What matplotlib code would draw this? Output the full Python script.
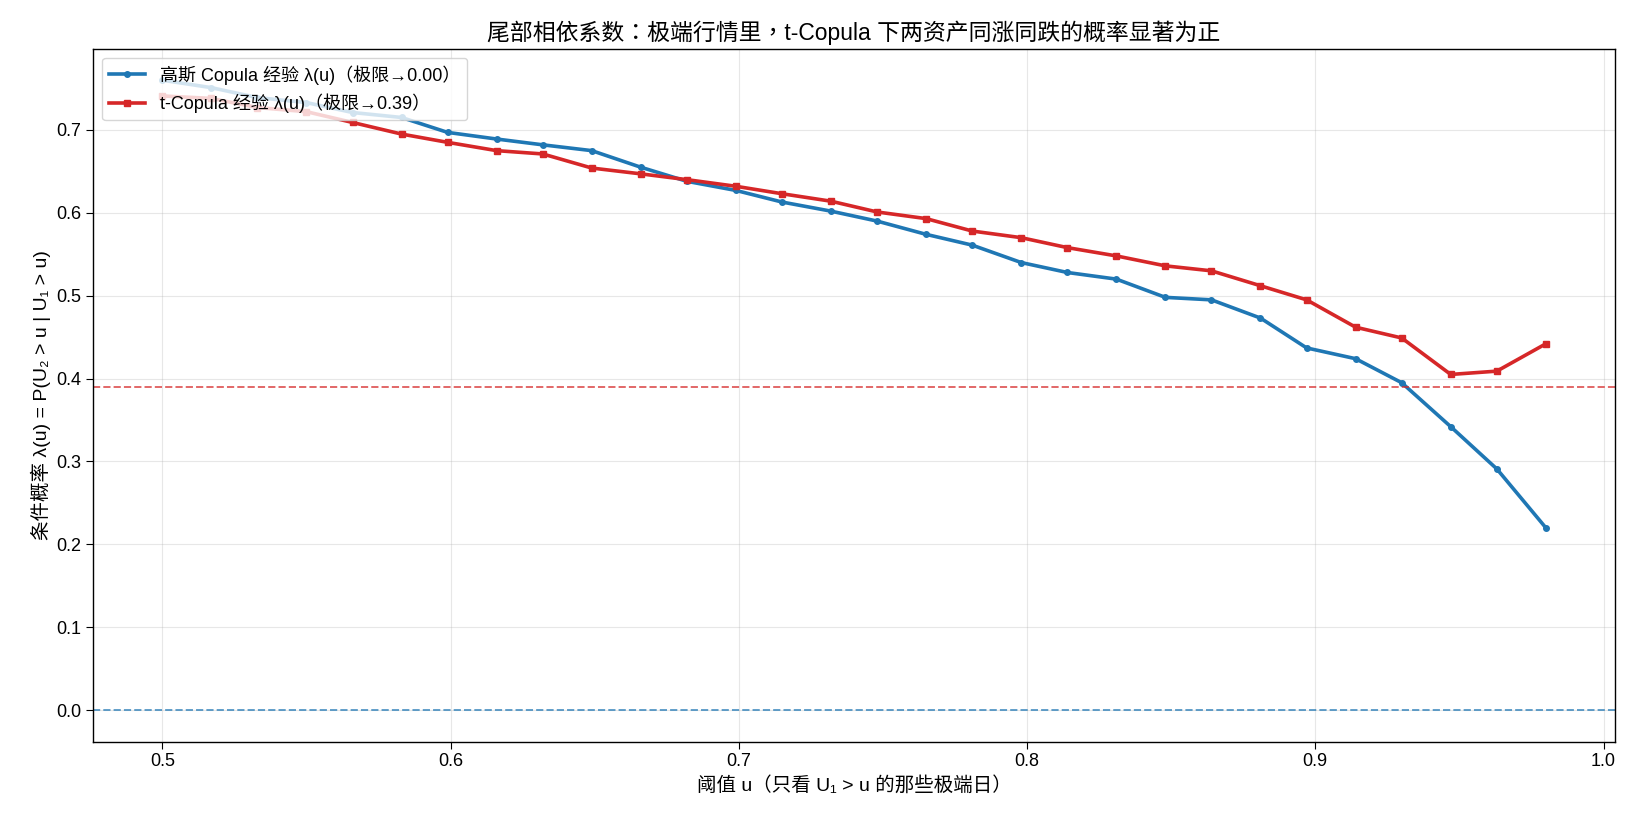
import numpy as np
import matplotlib
matplotlib.use("Agg")
import matplotlib.pyplot as plt

plt.rcParams['font.family'] = ['Liberation Sans', 'Noto Sans CJK TC', 'DejaVu Sans']
plt.rcParams['axes.unicode_minus'] = False

# threshold u
u = [0.500, 0.517, 0.533, 0.550, 0.566, 0.583, 0.599, 0.616, 0.632, 0.649,
     0.666, 0.682, 0.699, 0.715, 0.732, 0.748, 0.765, 0.781, 0.798, 0.814,
     0.831, 0.848, 0.864, 0.881, 0.897, 0.914, 0.930, 0.947, 0.963, 0.980]

# empirical lambda(u)
gauss_lam = [0.760, 0.751, 0.739, 0.733, 0.721, 0.715, 0.697, 0.689, 0.682, 0.675,
             0.655, 0.638, 0.627, 0.613, 0.602, 0.590, 0.574, 0.561, 0.540, 0.528,
             0.520, 0.498, 0.495, 0.473, 0.437, 0.424, 0.395, 0.342, 0.291, 0.220]
t_lam = [0.741, 0.738, 0.727, 0.722, 0.709, 0.695, 0.685, 0.675, 0.671, 0.654,
         0.647, 0.640, 0.632, 0.623, 0.614, 0.601, 0.593, 0.578, 0.570, 0.558,
         0.548, 0.536, 0.530, 0.512, 0.495, 0.462, 0.449, 0.405, 0.409, 0.442]

gauss_limit = 0.00
t_limit = 0.39

fig, ax = plt.subplots(figsize=(16.33, 8.25), dpi=100)

ax.plot(u, gauss_lam, "-o", color="#1f77b4", linewidth=2.6, markersize=4,
        label="高斯 Copula 经验 λ(u)（极限→%.2f）" % gauss_limit)
ax.plot(u, t_lam, "-s", color="#d62728", linewidth=2.6, markersize=4,
        label="t-Copula 经验 λ(u)（极限→%.2f）" % t_limit)

ax.axhline(gauss_limit, color="#1f77b4", linestyle="--", linewidth=1.4, alpha=0.7)
ax.axhline(t_limit, color="#d62728", linestyle="--", linewidth=1.4, alpha=0.7)

ax.set_title("尾部相依系数：极端行情里，t-Copula 下两资产同涨同跌的概率显著为正", fontsize=16.5)
ax.set_xlabel("阈值 u（只看 U₁ > u 的那些极端日）", fontsize=14)
ax.set_ylabel("条件概率 λ(u) = P(U₂ > u | U₁ > u)", fontsize=14)
ax.tick_params(labelsize=13, length=5)
for s in ax.spines.values():
    s.set_linewidth(1.0)
ax.grid(True, alpha=0.3)
ax.legend(loc="upper left", fontsize=13)

fig.subplots_adjust(left=0.057, right=0.989, top=0.941, bottom=0.101)
fig.savefig("out.png", dpi=100)
